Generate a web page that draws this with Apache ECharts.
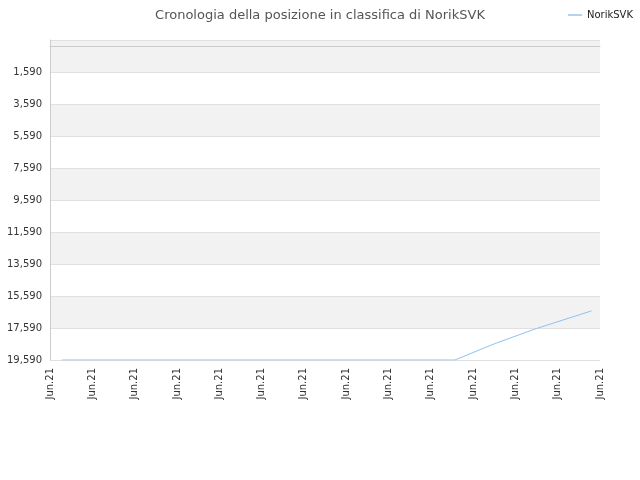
<!DOCTYPE html>
<html><head><meta charset="utf-8">
<script src="https://cdn.jsdelivr.net/npm/echarts@6/dist/echarts.min.js"></script>
<style>html,body{margin:0;padding:0}#c{width:640px;height:480px}</style>
</head><body><div id="c"></div>
<script>
const xLabels = ["Jun.21","Jun.21","Jun.21","Jun.21","Jun.21","Jun.21","Jun.21","Jun.21","Jun.21","Jun.21","Jun.21","Jun.21","Jun.21","Jun.21"];
const xPos = [0.28, 2, 4, 6, 8, 9.57, 10.5, 11.5, 12.8];
const ranks = [19590, 19590, 19590, 19590, 19590, 19590, 18580, 17620, 16520];
const seriesName = "NorikSVK";
const chart = echarts.init(document.getElementById('c'));
chart.setOption({
  animation:false,
  title:{text:"Cronologia della posizione in classifica di NorikSVK",left:'center',top:4,textStyle:{fontSize:13,fontWeight:'normal',color:'#555',fontFamily:'DejaVu Sans'}},
  legend:{data:[seriesName],right:2,top:5,itemWidth:14,icon:'path://M0,0H10V1H0Z',textStyle:{fontSize:10,color:'#222',fontFamily:'DejaVu Sans'}},
  grid:{left:50,right:40,top:40,bottom:120},
  xAxis:{type:'value',min:0,max:13,interval:1,
    axisLine:{lineStyle:{color:'#ccc'}},axisTick:{show:false},splitLine:{show:false},
    axisLabel:{rotate:90,fontSize:10,color:'#333',fontFamily:'DejaVu Sans',formatter:(v)=>xLabels[Math.round(v)]}},
  yAxis:{type:'value',inverse:true,min:-410,max:19590,interval:2000,
    axisLine:{show:true,lineStyle:{color:'#ccc'}},axisTick:{show:false},
    axisLabel:{fontSize:10,color:'#333',fontFamily:'DejaVu Sans',showMinLabel:false},
    splitLine:{lineStyle:{color:'#e0e0e0'}},
    splitArea:{show:true,areaStyle:{color:['#f2f2f2','#ffffff']}}},
  series:[{name:seriesName,type:'line',symbol:'none',data:xPos.map((x,i)=>[x,ranks[i]]),lineStyle:{color:'#90c0f0',width:1},itemStyle:{color:'#90c0f0'}}]
});
</script></body></html>
